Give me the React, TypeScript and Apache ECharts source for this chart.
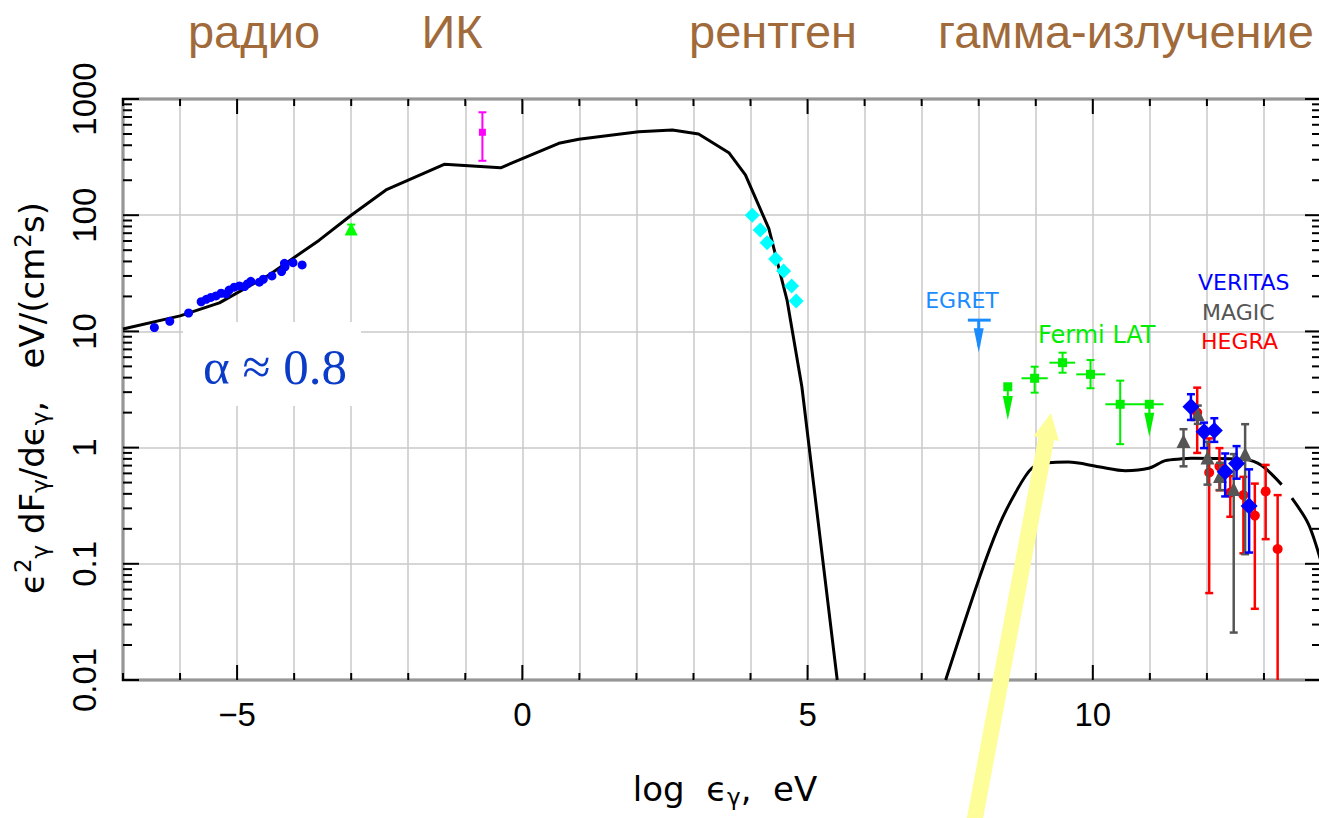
import React, { useEffect, useRef } from "react";
import * as echarts from "echarts";

// ---------------- axis ticks ----------------
const xTickValues = [-7, -6, -5, -4, -3, -2, -1, 0, 1, 2, 3, 4, 5, 6, 7, 8, 9, 10, 11, 12, 13, 14];
const xMajorTickValues = [-5, 0, 5, 10];
const yDecades = [0.01, 0.1, 1, 10, 100, 1000];
const yMinorMultipliers = [2, 3, 4, 5, 6, 7, 8, 9];

// ---------------- text ----------------
const bandLabels = ["радио", "ИК", "рентген", "гамма-излучение"];
const instrumentLabels = ["EGRET", "Fermi LAT", "VERITAS", "MAGIC", "HEGRA"];
const alphaLabel = "α ≈ 0.8";

// ---------------- model curves [log eps, flux] ----------------
const synchrotronModel = [
  [-7, 10.5], [-6.0, 13.6], [-5.31, 17.6], [-4.44, 30.6], [-3.56, 61], [-3.0, 100],
  [-2.39, 165], [-1.37, 274], [-0.38, 256], [0.64, 416], [0.99, 450], [1.58, 490],
  [2.04, 523], [2.63, 541], [3.09, 500], [3.62, 345], [3.91, 222], [4.32, 77],
  [4.64, 18.6], [4.9, 3.34], [5.52, 0.01],
];
const gammaModel = [
  [7.42, 0.01], [8.0, 0.073], [8.35, 0.21], [8.64, 0.405], [8.93, 0.664], [9.22, 0.741],
  [9.57, 0.75], [10.1, 0.685], [10.57, 0.633], [10.98, 0.664], [11.27, 0.772], [11.56, 0.8],
  [11.73, 0.81], [12.67, 0.79], [12.96, 0.7], [13.31, 0.48], [13.4, "-"], [13.49, 0.367],
  [13.78, 0.22], [14.0, 0.105],
];

// ---------------- observations ----------------
const radioPoints = [
  [-6.45, 10.8], [-6.18, 12.2], [-5.85, 14.4], [-5.63, 18.0], [-5.54, 18.9], [-5.46, 19.6],
  [-5.37, 20.2], [-5.28, 21.3], [-5.19, 21.0], [-5.14, 22.7], [-5.05, 24.0], [-4.96, 24.6],
  [-4.87, 24.3], [-4.82, 25.6], [-4.76, 27.0], [-4.61, 26.5], [-4.54, 28.1], [-4.39, 30.0],
  [-4.22, 32.7], [-4.16, 36.0], [-4.17, 38.5], [-4.02, 39.0], [-3.86, 37.3],
];
// [x, y, ylo, yhi]
const irPoints = [[-3.0, 76, 70, 83]];
const opticalPoints = [[-0.7, 517, 294, 769]];
const xrayPoints = [
  [4.03, 100], [4.17, 74.6], [4.29, 58], [4.44, 42], [4.58, 33.1], [4.72, 24.6], [4.8, 18.3],
];
// upper limits: [x, yTop, yArrowTip, xlo, xhi]
const egretLimits = [[8.0, 12.5, 6.6, 7.81, 8.21]];
const fermiLimits = [[8.51, 3.34, 1.73, 8.51, 8.51], [10.99, 2.36, 1.24, 10.74, 11.24]];
// [x, y, xlo, xhi, ylo, yhi]
const fermiPoints = [
  [8.98, 3.95, 8.75, 9.21, 2.97, 4.97],
  [9.47, 5.38, 9.24, 9.69, 4.41, 6.56],
  [9.96, 4.27, 9.71, 10.22, 3.24, 5.67],
  [10.48, 2.36, 10.22, 10.74, 1.07, 3.77],
];
// [x, y, ylo, yhi]
const veritasPoints = [
  [11.72, 2.25, 1.73, 2.88], [11.95, 1.37, 0.99, 1.64], [12.13, 1.4, 1.12, 1.79],
  [12.32, 0.62, 0.38, 0.89], [12.52, 0.73, 0.54, 1.03], [12.74, 0.314, 0.125, 0.65],
];
const magicPoints = [
  [11.59, 1.14, 0.69, 1.44], [11.84, 1.94, 1.6, 2.3], [12.01, 0.82, 0.48, 1.12],
  [12.23, 0.57, 0.43, 0.74], [12.47, 0.44, 0.0256, 0.88], [12.67, 0.88, 0.121, 1.59],
];
const hegraPoints = [
  [11.83, 2.0, 0.9, 3.28], [12.04, 0.61, 0.056, 1.2], [12.22, 0.69, 0.43, 0.99],
  [12.41, 0.41, 0.254, 0.57], [12.64, 0.39, 0.123, 0.56], [12.84, 0.26, 0.041, 0.49],
  [13.03, 0.42, 0.163, 0.71], [13.24, 0.134, 0.01, 0.39],
];

// ---------------- helpers ----------------
const SANS = "Liberation Sans";
const WIDE = "DejaVu Sans";

function vErr(p: number[]) {
  return [p[0], p[1], p[0], p[0], p[2], p[3]];
}

function errorBarSeries(data: any[], color: string, lw: number, cap: number, z: number) {
  return {
    type: "custom",
    coordinateSystem: "cartesian2d",
    silent: true,
    z,
    encode: { x: 0, y: 1 },
    data,
    renderItem: (_params: any, api: any) => {
      const x = api.value(0), y = api.value(1);
      const xlo = api.value(2), xhi = api.value(3), ylo = api.value(4), yhi = api.value(5);
      const st = { stroke: color, lineWidth: lw };
      const ch: any[] = [];
      const lo = api.coord([x, ylo]);
      const hi = api.coord([x, yhi]);
      if (ylo !== yhi) {
        ch.push({ type: "line", shape: { x1: lo[0], y1: lo[1], x2: hi[0], y2: hi[1] }, style: st });
        if (ylo > 0.0101)
          ch.push({ type: "line", shape: { x1: lo[0] - cap, y1: lo[1], x2: lo[0] + cap, y2: lo[1] }, style: st });
        ch.push({ type: "line", shape: { x1: hi[0] - cap, y1: hi[1], x2: hi[0] + cap, y2: hi[1] }, style: st });
      }
      if (xlo !== xhi) {
        const l = api.coord([xlo, y]);
        const r = api.coord([xhi, y]);
        ch.push({ type: "line", shape: { x1: l[0], y1: l[1], x2: r[0], y2: r[1] }, style: st });
      }
      return { type: "group", children: ch };
    },
  };
}

function upperLimitSeries(data: any[], color: string, lw: number, z: number) {
  return {
    type: "custom",
    coordinateSystem: "cartesian2d",
    silent: true,
    z,
    encode: { x: 0, y: 1 },
    data,
    renderItem: (_params: any, api: any) => {
      const x = api.value(0), yTop = api.value(1), yTip = api.value(2);
      const xlo = api.value(3), xhi = api.value(4);
      const top = api.coord([x, yTop]);
      const tip = api.coord([x, yTip]);
      const st = { stroke: color, lineWidth: lw };
      const ch: any[] = [
        { type: "line", shape: { x1: top[0], y1: top[1], x2: tip[0], y2: tip[1] - 6 }, style: st },
        {
          type: "polygon",
          shape: { points: [[tip[0], tip[1]], [tip[0] - 5, tip[1] - 24], [tip[0] + 5, tip[1] - 24]] },
          style: { fill: color },
        },
      ];
      if (xlo !== xhi) {
        const l = api.coord([xlo, yTop]);
        const r = api.coord([xhi, yTop]);
        ch.push({ type: "line", shape: { x1: l[0], y1: l[1], x2: r[0], y2: r[1] }, style: st });
      }
      return { type: "group", children: ch };
    },
  };
}

function scatter(data: number[][], symbol: string, size: number, color: string, z: number) {
  return {
    type: "scatter",
    silent: true,
    z,
    symbol,
    symbolSize: size,
    itemStyle: { color, opacity: 1 },
    data: data.map((p) => [p[0], p[1]]),
  };
}

const tickSeries = {
  type: "custom",
  coordinateSystem: "cartesian2d",
  silent: true,
  z: 20,
  data: [[0, 1]],
  renderItem: (params: any, api: any) => {
    const cs = params.coordSys;
    const top = cs.y, bottom = cs.y + cs.height, left = cs.x, right = cs.x + cs.width;
    const st = { stroke: "#000", lineWidth: 2 };
    const ch: any[] = [];
    xTickValues.forEach((v) => {
      const px = api.coord([v, 1])[0];
      const L = xMajorTickValues.includes(v) ? 15 : 7;
      ch.push({ type: "line", shape: { x1: px, y1: bottom, x2: px, y2: bottom - L }, style: st });
      ch.push({ type: "line", shape: { x1: px, y1: top, x2: px, y2: top + L }, style: st });
    });
    yDecades.forEach((d, i) => {
      const py = api.coord([0, d])[1];
      ch.push({ type: "line", shape: { x1: left, y1: py, x2: left + 16, y2: py }, style: st });
      ch.push({ type: "line", shape: { x1: right, y1: py, x2: right - 16, y2: py }, style: st });
      if (i < yDecades.length - 1) {
        yMinorMultipliers.forEach((m) => {
          const pm = api.coord([0, d * m])[1];
          ch.push({ type: "line", shape: { x1: left, y1: pm, x2: left + 9, y2: pm }, style: st });
          ch.push({ type: "line", shape: { x1: right, y1: pm, x2: right - 9, y2: pm }, style: st });
        });
      }
    });
    return { type: "group", children: ch };
  },
};

function arrowPoly(x0: number, y0: number, x1: number, y1: number, bodyHalf: number, headHalf: number, headLen: number) {
  const dx = x1 - x0, dy = y1 - y0;
  const len = Math.sqrt(dx * dx + dy * dy);
  const ux = dx / len, uy = dy / len;
  const nx = -uy, ny = ux;
  const bx = x1 - ux * headLen, by = y1 - uy * headLen;
  return [
    [x0 + nx * bodyHalf, y0 + ny * bodyHalf],
    [bx + nx * bodyHalf, by + ny * bodyHalf],
    [bx + nx * headHalf, by + ny * headHalf],
    [x1, y1],
    [bx - nx * headHalf, by - ny * headHalf],
    [bx - nx * bodyHalf, by - ny * bodyHalf],
    [x0 - nx * bodyHalf, y0 - ny * bodyHalf],
  ];
}

function txt(text: string, x: number, y: number, font: string, fill: string, align = "center", extra: any = {}) {
  return {
    type: "text",
    x,
    y,
    z: 100,
    silent: true,
    ...extra,
    style: { text, font, fill, align, verticalAlign: "middle", textAlign: align, textVerticalAlign: "middle", ...(extra.style || {}) },
  };
}

const bandColor = "#a06a3a";

const option: any = {
  animation: false,
  backgroundColor: "#fff",
  grid: { left: 123, top: 99, width: 1199, height: 581, show: true, borderColor: "#000", borderWidth: 2.5, backgroundColor: "transparent" },
  xAxis: {
    type: "value",
    min: -7,
    max: 14,
    interval: 1,
    axisLine: { show: false },
    axisTick: { show: false },
    splitLine: { show: true, lineStyle: { color: "#c8c8c8", width: 1.5 } },
    axisLabel: {
      interval: 0,
      margin: 18,
      fontSize: 33,
      fontFamily: SANS,
      color: "#000",
      formatter: (v: number) => (xMajorTickValues.includes(v) ? (v < 0 ? "\u2212" + Math.abs(v) : String(v)) : ""),
    },
  },
  yAxis: {
    type: "log",
    logBase: 10,
    min: 0.01,
    max: 1000,
    axisLine: { show: false },
    axisTick: { show: false },
    splitLine: { show: true, lineStyle: { color: "#c8c8c8", width: 1.5 } },
    axisLabel: {
      rotate: 90,
      margin: 22,
      fontSize: 33,
      fontFamily: SANS,
      color: "#000",
      showMinLabel: true,
      showMaxLabel: true,
      formatter: (v: number) => String(+Number(v).toPrecision(4)),
    },
  },
  series: [
    {
      type: "line",
      silent: true,
      z: 5,
      symbol: "none",
      data: synchrotronModel,
      lineStyle: { color: "#000", width: 3 },
    },
    {
      type: "line",
      silent: true,
      z: 5,
      symbol: "none",
      smooth: 0.3,
      connectNulls: false,
      data: gammaModel,
      lineStyle: { color: "#000", width: 3 },
    },
    scatter(radioPoints, "circle", 9, "#0000ff", 6),
    errorBarSeries(irPoints.map(vErr), "#00ff00", 2, 4, 6),
    scatter(irPoints, "triangle", 13, "#00ff00", 7),
    errorBarSeries(opticalPoints.map(vErr), "#ff00ff", 2, 4, 6),
    scatter(opticalPoints, "rect", 7, "#ff00ff", 7),
    scatter(xrayPoints, "diamond", 15, "#00ffff", 6),
    upperLimitSeries(egretLimits, "#1a8cff", 3, 6),
    upperLimitSeries(fermiLimits, "#00ee00", 2, 6),
    errorBarSeries(fermiPoints, "#00ee00", 2, 4, 6),
    scatter(fermiPoints, "rect", 9, "#00ee00", 7),
    scatter(fermiLimits, "rect", 9, "#00ee00", 7),
    errorBarSeries(hegraPoints.map(vErr), "#ff0000", 2.5, 4, 8),
    scatter(hegraPoints, "circle", 10, "#ff0000", 9),
    errorBarSeries(magicPoints.map(vErr), "#555555", 2.5, 4, 10),
    scatter(magicPoints, "triangle", 14, "#555555", 11),
    errorBarSeries(veritasPoints.map(vErr), "#0000ff", 2.5, 4, 12),
    scatter(veritasPoints, "diamond", 17, "#0000ff", 13),
    tickSeries,
  ],
  graphic: [
    // band labels
    txt(bandLabels[0], 254, 31, `47px "${SANS}"`, bandColor),
    txt(bandLabels[1], 452, 31, `47px "${SANS}"`, bandColor),
    txt(bandLabels[2], 773, 31, `47px "${SANS}"`, bandColor),
    txt(bandLabels[3], 1126, 31, `47px "${SANS}"`, bandColor),
    // instrument labels
    txt(instrumentLabels[0], 962, 300, `22px "${WIDE}"`, "#1a8cff"),
    txt(instrumentLabels[1], 1038, 335, `24px "${WIDE}"`, "#00ee00", "left"),
    txt(instrumentLabels[2], 1198, 282, `22px "${WIDE}"`, "#0000ff", "left"),
    txt(instrumentLabels[3], 1202, 312, `22px "${WIDE}"`, "#555555", "left"),
    txt(instrumentLabels[4], 1201, 341, `22px "${WIDE}"`, "#ff0000", "left"),
    // alpha annotation
    { type: "rect", z: 99, silent: true, shape: { x: 183, y: 322, width: 178, height: 84 }, style: { fill: "#fff" } },
    txt(alphaLabel, 275, 367, `51px "Liberation Serif"`, "#0b3cc8"),
    // axis titles
    {
      type: "text",
      z: 100,
      silent: true,
      x: 725,
      y: 789,
      style: {
        text: "{m|log  ϵ}{sub|γ}{m|,  eV}",
        align: "center",
        verticalAlign: "middle",
        textAlign: "center",
        textVerticalAlign: "middle",
        fill: "#000",
        font: `34px "${WIDE}"`,
        rich: {
          m: { fontSize: 34, fontFamily: WIDE, fill: "#000" },
          sub: { fontSize: 23, fontFamily: WIDE, fill: "#000", padding: [16, 0, 0, 0] },
        },
      },
    },
    {
      type: "text",
      z: 100,
      silent: true,
      x: 32,
      y: 398,
      rotation: Math.PI / 2,
      style: {
        text: "{m|ϵ}{sup|2}{sub|γ}{m| dF}{sub|γ}{m|/dϵ}{sub|γ}{m|,   eV/(cm}{sup|2}{m|s)}",
        align: "center",
        verticalAlign: "middle",
        textAlign: "center",
        textVerticalAlign: "middle",
        fill: "#000",
        font: `34px "${WIDE}"`,
        rich: {
          m: { fontSize: 34, fontFamily: WIDE, fill: "#000" },
          sub: { fontSize: 23, fontFamily: WIDE, fill: "#000", padding: [16, 0, 0, 0] },
          sup: { fontSize: 23, fontFamily: WIDE, fill: "#000", padding: [0, 0, 18, 0] },
        },
      },
    },
    // highlight arrow
    {
      type: "polygon",
      z: 98,
      silent: true,
      shape: { points: arrowPoly(972, 834, 1051, 413, 8, 13, 26) },
      style: { fill: "#fdfd9a" },
    },
  ],
};

export default function App() {
  const ref = useRef<HTMLDivElement>(null);
  useEffect(() => {
    if (!ref.current) return;
    const chart = echarts.init(ref.current, undefined, { renderer: "svg" });
    chart.setOption(option);
    return () => chart.dispose();
  }, []);
  return (
    <div
      ref={ref}
      style={{ position: "fixed", left: 0, top: 0, width: 1324, height: 818, background: "#fff" }}
    />
  );
}
